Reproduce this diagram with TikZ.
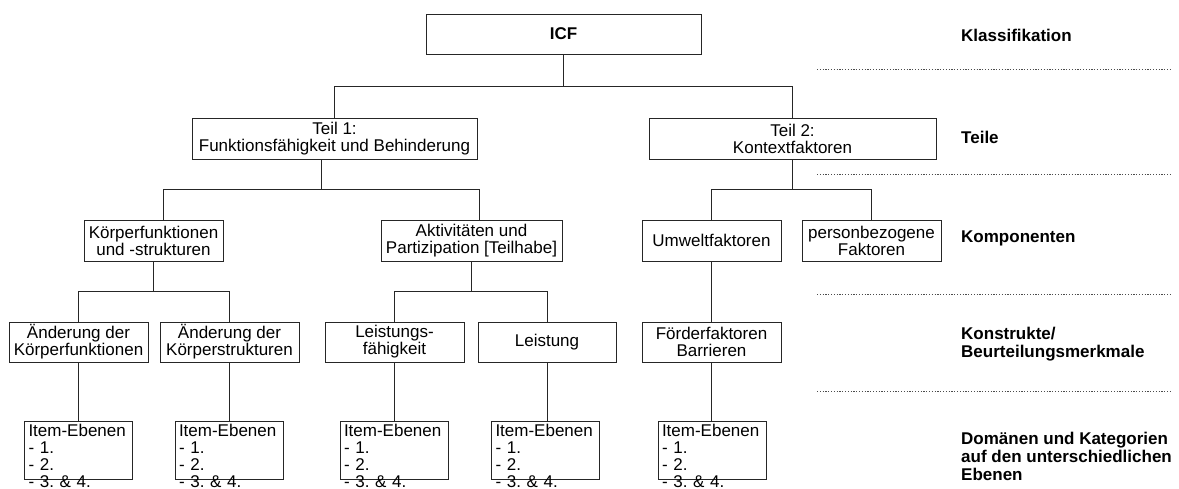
\documentclass[tikz,border=0pt]{standalone}
\usepackage{fontspec}
\setmainfont{Liberation Sans}
\frenchspacing

\tikzset{
  box/.style={draw=black!85, line width=0.9pt, inner sep=0pt, align=center,
    font=\fontsize{17}{17}\selectfont},
  itembox/.style={draw=black!85, line width=0.9pt, anchor=north, align=left,
    inner xsep=4pt, inner ysep=3pt, text width=100pt, text depth=40pt,
    font=\fontsize{17}{17}\selectfont},
  levellabel/.style={anchor=west, align=left, inner sep=0pt,
    font=\bfseries\fontsize{17}{18}\selectfont},
  levelsep/.style={black!70, line width=0.8pt, dash pattern=on 1.2pt off 1.6pt},
  link/.style={draw=black!85, line width=0.9pt}
}

\begin{document}
\begin{tikzpicture}[x=1pt, y=-1pt]

          \useasboundingbox (0,0) rectangle (1179,489);
          \clip (0,0) rectangle (1179,489);

          % boxes of the tree
          \node[box, minimum width=275pt, minimum height=40pt, font=\bfseries\fontsize{17}{17}\selectfont] (icf) at (563.5, 34) {ICF};

          \node[box, minimum width=285pt, minimum height=41pt] (teil1) at (334.5, 138.5) {Teil 1:\\Funktionsfähigkeit und Behinderung};
          \node[box, minimum width=287pt, minimum height=41pt] (teil2) at (792.5, 138.5) {Teil 2:\\Kontextfaktoren};

          \node[box, minimum width=139pt, minimum height=41pt] (koerper) at (153.5, 240.5) {Körperfunktionen\\und -strukturen};
          \node[box, minimum width=181pt, minimum height=41pt] (akt) at (471.5, 240.5) {Aktivitäten und\\Partizipation [Teilhabe]};
          \node[box, minimum width=139pt, minimum height=41pt] (umwelt) at (711.5, 240.5) {Umweltfaktoren};
          \node[box, minimum width=139pt, minimum height=41pt] (person) at (871.5, 240.5) {personbezogene\\Faktoren};

          \node[box, minimum width=139pt, minimum height=40pt] (aend1) at (78.5, 342) {Änderung der\\Körperfunktionen};
          \node[box, minimum width=139pt, minimum height=40pt] (aend2) at (229.5, 342) {Änderung der\\Körperstrukturen};
          \node[box, minimum width=139pt, minimum height=40pt] (leistf) at (394.5, 342) {Leistungs-\\fähigkeit};
          \node[box, minimum width=138pt, minimum height=40pt] (leist) at (547, 342) {Leistung};
          \node[box, minimum width=139pt, minimum height=40pt] (foerder) at (711.5, 342) {Förderfaktoren\\Barrieren};

          \node[itembox] (item1) at (78.5, 421) {Item-Ebenen\\- 1.\\- 2.\\- 3. \& 4.};
          \node[itembox] (item2) at (229, 421) {Item-Ebenen\\- 1.\\- 2.\\- 3. \& 4.};
          \node[itembox] (item3) at (394, 421) {Item-Ebenen\\- 1.\\- 2.\\- 3. \& 4.};
          \node[itembox] (item4) at (545.5, 421) {Item-Ebenen\\- 1.\\- 2.\\- 3. \& 4.};
          \node[itembox] (item5) at (712, 421) {Item-Ebenen\\- 1.\\- 2.\\- 3. \& 4.};

          % connectors
          \draw[link] (icf.south) -- ++(0,32) coordinate (bus0);
          \draw[link] (teil1.north) |- (bus0) -| (teil2.north);

          \draw[link] ([xshift=-13.5pt]teil1.south) -- ++(0,30) coordinate (bus1);
          \draw[link] ([xshift=9.5pt]koerper.north) |- (bus1) -| ([xshift=7.5pt]akt.north);

          \draw[link] (teil2.south) -- ++(0,30) coordinate (bus4);
          \draw[link] (umwelt.north) |- (bus4) -| (person.north);

          \draw[link] (koerper.south) -- ++(0,30) coordinate (bus2);
          \draw[link] (aend1.north) |- (bus2) -| (aend2.north);

          \draw[link] (akt.south) -- ++(0,30) coordinate (bus3);
          \draw[link] (leistf.north) |- (bus3) -| (leist.north);

          \draw[link] (umwelt.south) -- (foerder.north);

          \draw[link] (aend1.south) -- (aend1.south |- item1.north);
          \draw[link] (aend2.south) -- (aend2.south |- item2.north);
          \draw[link] (leistf.south) -- (leistf.south |- item3.north);
          \draw[link] (leist.south) -- (leist.south |- item4.north);
          \draw[link] (foerder.south) -- (foerder.south |- item5.north);

          % levels on the right
          \node[levellabel] (klass) at (961, 35) {Klassifikation};
          \node[levellabel] (teile) at (961, 137) {Teile};
          \node[levellabel] (komp) at (961, 238) {Komponenten};
          \node[levellabel] (konstr) at (961, 344) {Konstrukte/\\Beurteilungsmerkmale};
          \node[levellabel] (dom) at (961, 456) {Domänen und Kategorien\\auf den unterschiedlichen\\Ebenen};

          \draw[levelsep] (817, 69) -- (1172, 69);
          \draw[levelsep] (817, 174) -- (1172, 174);
          \draw[levelsep] (817, 294) -- (1172, 294);
          \draw[levelsep] (817, 391) -- (1172, 391);

        \end{tikzpicture}
\end{document}
